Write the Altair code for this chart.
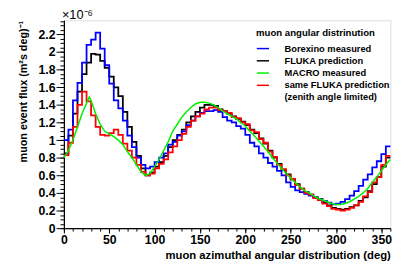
import altair as alt
import pandas as pd

# bin edges of the step histograms (deg)
bin_edges = list(range(0, 365, 5))

borexino = [1.00, 1.12, 1.45, 1.65, 1.88, 2.08, 2.14, 2.22, 2.04, 1.85, 1.64, 1.45,
            1.36, 1.22, 1.05, 0.92, 0.80, 0.72, 0.68, 0.70, 0.75, 0.80, 0.85, 0.95,
            0.98, 1.05, 1.10, 1.17, 1.22, 1.27, 1.31, 1.33, 1.33, 1.34, 1.32, 1.26,
            1.22, 1.20, 1.16, 1.13, 1.06, 0.97, 0.93, 0.85, 0.80, 0.74, 0.70, 0.65,
            0.60, 0.52, 0.47, 0.43, 0.41, 0.39, 0.37, 0.35, 0.33, 0.31, 0.29, 0.27,
            0.28, 0.30, 0.33, 0.37, 0.42, 0.48, 0.55, 0.61, 0.69, 0.76, 0.84, 0.93]

fluka = [0.85, 1.05, 1.30, 1.55, 1.75, 1.88, 1.98, 1.97, 1.90, 1.82, 1.72, 1.60,
         1.50, 1.32, 1.15, 0.98, 0.82, 0.68, 0.60, 0.63, 0.70, 0.75, 0.82, 0.92,
         1.00, 1.06, 1.12, 1.20, 1.27, 1.32, 1.37, 1.40, 1.40, 1.39, 1.35, 1.33,
         1.30, 1.27, 1.24, 1.21, 1.17, 1.12, 1.08, 1.02, 0.96, 0.88, 0.80, 0.73,
         0.66, 0.61, 0.55, 0.50, 0.45, 0.41, 0.38, 0.35, 0.33, 0.29, 0.26, 0.23,
         0.22, 0.21, 0.22, 0.24, 0.26, 0.31, 0.35, 0.42, 0.50, 0.58, 0.70, 0.80]

fluka_zenith = [0.83, 0.97, 1.15, 1.40, 1.55, 1.44, 1.28, 1.15, 1.06, 1.05, 1.08, 1.12,
                1.06, 0.96, 0.88, 0.80, 0.72, 0.64, 0.60, 0.62, 0.68, 0.73, 0.78, 0.86,
                0.93, 1.00, 1.07, 1.15, 1.22, 1.27, 1.30, 1.35, 1.37, 1.37, 1.34, 1.33,
                1.31, 1.26, 1.25, 1.20, 1.18, 1.11, 1.09, 1.01, 0.97, 0.87, 0.81, 0.72,
                0.67, 0.60, 0.56, 0.49, 0.45, 0.40, 0.38, 0.34, 0.32, 0.28, 0.25, 0.22,
                0.21, 0.20, 0.21, 0.23, 0.26, 0.30, 0.36, 0.41, 0.52, 0.58, 0.72, 0.82]

macro_angle = [0, 5, 10, 15, 20, 25, 28, 30, 35, 40, 45, 50, 55, 60, 65, 70, 75, 80,
               85, 90, 95, 100, 105, 110, 115, 120, 125, 130, 135, 140, 145, 150, 155,
               160, 165, 170, 175, 180, 185, 190, 195, 200, 205, 210, 215, 220, 225,
               230, 235, 240, 245, 250, 255, 260, 265, 270, 275, 280, 285, 290, 295,
               300, 305, 310, 315, 320, 325, 330, 335, 340, 345, 350, 355, 360]
macro_flux = [0.80, 0.88, 1.00, 1.15, 1.30, 1.42, 1.49, 1.45, 1.30, 1.18, 1.10, 1.07,
              1.04, 1.00, 0.95, 0.87, 0.80, 0.72, 0.64, 0.60, 0.62, 0.70, 0.78, 0.88,
              0.98, 1.10, 1.18, 1.26, 1.32, 1.37, 1.41, 1.43, 1.43, 1.42, 1.40, 1.37,
              1.33, 1.30, 1.27, 1.24, 1.20, 1.16, 1.10, 1.05, 0.99, 0.93, 0.87, 0.80,
              0.74, 0.68, 0.62, 0.57, 0.52, 0.47, 0.43, 0.40, 0.37, 0.34, 0.32, 0.30,
              0.28, 0.27, 0.27, 0.28, 0.30, 0.33, 0.36, 0.40, 0.45, 0.52, 0.58, 0.65,
              0.72, 0.78]

series_names = ["Borexino measured", "FLUKA prediction", "MACRO measured", "same FLUKA prediction"]
series_colors = ["#0000ff", "#000000", "#00ee00", "#ff0000"]

y_major = [0, 0.2, 0.4, 0.6, 0.8, 1, 1.2, 1.4, 1.6, 1.8, 2, 2.2]
y_minor = [round(i * 0.05, 2) for i in range(48)]
x_major = [0, 50, 100, 150, 200, 250, 300, 350]
x_minor = list(range(0, 361, 10))


def step_frame(name, vals):
    return pd.DataFrame({"angle": bin_edges, "flux": vals + [vals[-1]], "series": name})


font = "Liberation Sans"
color_scale = alt.Scale(domain=series_names, range=series_colors)
legend = alt.Legend(
    title="muon angular distrinution", orient="none", legendX=196, legendY=8,
    titleFont=font, titleFontSize=9.8, titleFontWeight="bold", titleColor="black",
    titlePadding=4,
    labelFont=font, labelFontSize=9.5, labelFontWeight="bold", labelColor="black",
    symbolType="stroke", symbolSize=156, symbolStrokeWidth=1.5, labelOffset=15,
    rowPadding=0.5, padding=0, labelLimit=300,
    labelExpr="datum.label == 'same FLUKA prediction' ? ['same FLUKA prediction', '\u00a0(zenith angle limited)'] : datum.label",
)

x_scale = alt.Scale(domain=[0, 360], nice=False, zero=False)
y_scale = alt.Scale(domain=[0, 2.36], nice=False)

x_axis_major = alt.Axis(
    values=x_major, tickSize=5, labelPadding=1, domainColor="black", tickColor="black",
    labelFont=font, labelFontSize=12.5, labelFontWeight="bold", labelColor="black",
    title="muon azimuthal angular distribution (deg)", titleAnchor="end",
    titleFont=font, titleFontSize=11.5, titleFontWeight="bold", titleColor="black",
    titlePadding=3, grid=False, labelFlush=False, orient="bottom",
)
y_axis_major = alt.Axis(
    values=y_major, format="~g", tickSize=8, labelPadding=1, domainColor="black",
    tickColor="black", labelFont=font, labelFontSize=12.5, labelFontWeight="bold",
    labelColor="black", title="muon event flux (m²s deg)⁻¹", titleAnchor="end",
    titleFont=font, titleFontSize=11, titleFontWeight="bold", titleColor="black",
    titlePadding=10, grid=False, orient="left",
)
x_axis_minor = alt.Axis(values=x_minor, tickSize=3, labels=False, title=None,
                        domainColor="black", tickColor="black", grid=False, orient="bottom")
y_axis_minor = alt.Axis(values=y_minor, tickSize=4, labels=False, title=None,
                        domainColor="black", tickColor="black", grid=False, orient="left")


def step_layer(name, vals, first=False):
    return alt.Chart(step_frame(name, vals)).mark_line(
        interpolate="step-after", strokeWidth=1.8
    ).encode(
        x=alt.X("angle:Q", scale=x_scale, axis=x_axis_major if first else None),
        y=alt.Y("flux:Q", scale=y_scale, axis=y_axis_major if first else None),
        color=alt.Color("series:N", scale=color_scale, legend=legend),
    )


macro_df = pd.DataFrame({"angle": macro_angle, "flux": macro_flux, "series": "MACRO measured"})
macro_layer = alt.Chart(macro_df).mark_line(strokeWidth=1.5).encode(
    x=alt.X("angle:Q", scale=x_scale, axis=x_axis_minor),
    y=alt.Y("flux:Q", scale=y_scale, axis=y_axis_minor),
    color=alt.Color("series:N", scale=color_scale, legend=legend),
)

chart = alt.layer(
    step_layer("FLUKA prediction", fluka, first=True),
    step_layer("Borexino measured", borexino),
    step_layer("same FLUKA prediction", fluka_zenith),
    macro_layer,
).resolve_axis(x="independent", y="independent").properties(
    width=333, height=212,
    autosize=alt.AutoSizeParams(type="none"),
    padding={"left": 57, "top": 10, "right": 19, "bottom": 36},
    title=alt.TitleParams("×10⁻⁶", anchor="start", frame="group", font=font, fontSize=13,
                          fontWeight="normal", color="black", offset=-2, dx=-2),
).configure_view(stroke=None).configure(background="white")

chart.save("out.html", embed_options={"renderer": "svg", "actions": False})
